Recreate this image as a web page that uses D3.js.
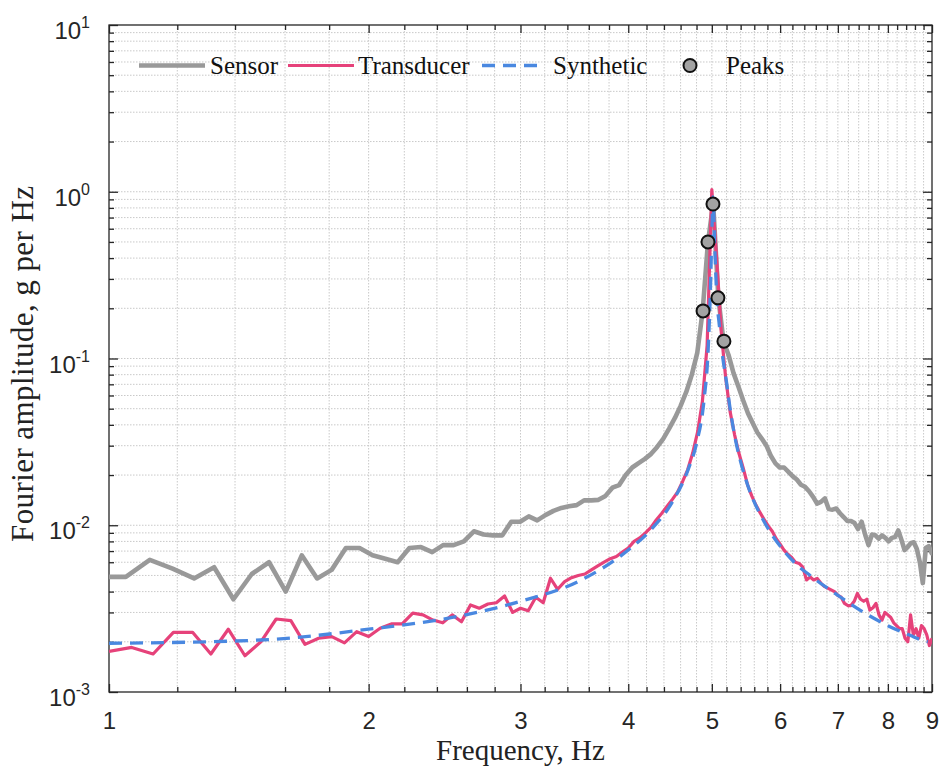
<!DOCTYPE html>
<html>
<head>
<meta charset="utf-8">
<script src="https://cdn.jsdelivr.net/npm/d3@7"></script>
<style>
  body { margin: 0; background: #fff; }
  svg { display: block; }
</style>
</head>
<body>
<div id="chart"></div>
<script>
// sensor spectrum (FFT bins)
var sensorFreq = [0.976, 1.046, 1.115, 1.185, 1.255, 1.324, 1.394, 1.464, 1.533, 1.603,
    1.673, 1.743, 1.812, 1.882, 1.952, 2.021, 2.091, 2.161, 2.230, 2.300,
    2.370, 2.440, 2.509, 2.579, 2.649, 2.718, 2.788, 2.858, 2.927, 2.997,
    3.067, 3.137, 3.206, 3.276, 3.346, 3.415, 3.485, 3.555, 3.624, 3.694,
    3.764, 3.834, 3.903, 3.973, 4.043, 4.112, 4.182, 4.252, 4.321, 4.391,
    4.461, 4.531, 4.600, 4.670, 4.740, 4.809, 4.879, 4.949, 5.018, 5.088,
    5.158, 5.228, 5.297, 5.367, 5.437, 5.506, 5.576, 5.646, 5.715, 5.785,
    5.855, 5.925, 5.994, 6.064, 6.134, 6.203, 6.273, 6.343, 6.412, 6.482,
    6.552, 6.622, 6.691, 6.761, 6.831, 6.900, 6.970, 7.040, 7.109, 7.179,
    7.249, 7.319, 7.388, 7.458, 7.528, 7.597, 7.667, 7.737, 7.806, 7.876,
    7.946, 8.016, 8.085, 8.155, 8.225, 8.294, 8.364, 8.434, 8.503, 8.573,
    8.643, 8.713, 8.782, 8.852, 8.922, 8.991, 9.061];
var sensorAmp = [0.0049, 0.0049, 0.0062, 0.0055, 0.0048, 0.0056, 0.0036, 0.0051, 0.0060, 0.0040,
    0.0066, 0.0048, 0.0054, 0.0073, 0.0073, 0.0066, 0.0063, 0.0060, 0.0073, 0.0074,
    0.0069, 0.0076, 0.0076, 0.0080, 0.0092, 0.0088, 0.0087, 0.0087, 0.0105, 0.0105,
    0.0113, 0.0107, 0.0115, 0.0122, 0.0127, 0.0130, 0.0132, 0.0141, 0.0141, 0.0142,
    0.0150, 0.0168, 0.0174, 0.0200, 0.0222, 0.0236, 0.0250, 0.0268, 0.0295, 0.033,
    0.038, 0.044, 0.052, 0.063, 0.080, 0.108, 0.193, 0.50, 0.85, 0.231,
    0.127, 0.105, 0.082, 0.068, 0.056, 0.047, 0.041, 0.036, 0.033, 0.030,
    0.026, 0.0235, 0.0222, 0.0222, 0.0209, 0.0197, 0.0188, 0.0175, 0.0170, 0.0160,
    0.0148, 0.0135, 0.0138, 0.0145, 0.0125, 0.0124, 0.0126, 0.0118, 0.0112, 0.0106,
    0.0106, 0.0103, 0.0095, 0.0105, 0.0088, 0.0076, 0.0088, 0.0087, 0.0083, 0.0087,
    0.0084, 0.0080, 0.0084, 0.0085, 0.0093, 0.0082, 0.0071, 0.0074, 0.0078, 0.0079,
    0.0072, 0.0060, 0.0045, 0.0073, 0.0075, 0.0068, 0.0070];

// transducer spectrum
var transFreq = [1.0, 1.0625, 1.125, 1.1875, 1.25, 1.3125, 1.375, 1.4375, 1.5, 1.5625,
    1.625, 1.6875, 1.75, 1.8125, 1.875, 1.9375, 2.0, 2.0625, 2.125, 2.1875,
    2.25, 2.3125, 2.375, 2.4375, 2.5, 2.5625, 2.625, 2.6875, 2.75, 2.8125,
    2.875, 2.9375, 3.0, 3.0625, 3.125, 3.1875, 3.25, 3.3125, 3.375, 3.4375,
    3.5, 3.5625, 3.625, 3.6875, 3.75, 3.8125, 3.875, 3.9375, 4.0, 4.0625,
    4.125, 4.1875, 4.25, 4.3125, 4.375, 4.4375, 4.5, 4.5625, 4.625, 4.6875,
    4.75, 4.8125, 4.875, 4.9375, 5.0, 5.0625, 5.125, 5.1875, 5.25, 5.3125,
    5.375, 5.4375, 5.5, 5.5625, 5.625, 5.6875, 5.75, 5.8125, 5.875, 5.9375,
    6.0, 6.0625, 6.125, 6.1875, 6.25, 6.3125, 6.375, 6.4375, 6.5, 6.5625,
    6.625, 6.6875, 6.75, 6.8125, 6.875, 6.9375, 7.0, 7.0625, 7.125, 7.1875,
    7.25, 7.3125, 7.375, 7.4375, 7.5, 7.5625, 7.625, 7.6875, 7.75, 7.8125,
    7.875, 7.9375, 8.0, 8.0625, 8.125, 8.1875, 8.25, 8.3125, 8.375, 8.4375,
    8.5, 8.5625, 8.625, 8.6875, 8.75, 8.8125, 8.875, 8.9375, 9.0];
var transAmp = [0.00175, 0.00185, 0.00169, 0.00228, 0.00228, 0.00169, 0.00238, 0.00165, 0.0020, 0.00274,
    0.00268, 0.00193, 0.0021, 0.00215, 0.00197, 0.0023, 0.00215, 0.00241, 0.00256, 0.00256,
    0.00297, 0.0029, 0.0027, 0.0026, 0.0029, 0.00264, 0.00333, 0.00318, 0.00337, 0.00343,
    0.00377, 0.0030, 0.00318, 0.00307, 0.0037, 0.00343, 0.00481, 0.00413, 0.00459, 0.00485,
    0.0050, 0.0051, 0.0054, 0.0057, 0.0060, 0.0063, 0.0065, 0.0069, 0.0073, 0.0080,
    0.0084, 0.0090, 0.0097, 0.0108, 0.0118, 0.0130, 0.0143, 0.0158, 0.0183, 0.0215,
    0.027, 0.036, 0.055, 0.12, 1.03, 0.41, 0.148, 0.077, 0.048, 0.035,
    0.027, 0.022, 0.0175, 0.0150, 0.0132, 0.0119, 0.0108, 0.0099, 0.0092, 0.0083,
    0.0077, 0.0071, 0.0067, 0.0064, 0.0060, 0.0059, 0.0056, 0.0047, 0.0049, 0.0047,
    0.0048, 0.0045, 0.0043, 0.0042, 0.0041, 0.0040, 0.0038, 0.0037, 0.0034, 0.0033,
    0.0033, 0.0035, 0.0039, 0.0036, 0.0035, 0.0036, 0.0031, 0.0032, 0.0034, 0.0029,
    0.0027, 0.0030, 0.0029, 0.0028, 0.0026, 0.0025, 0.0024, 0.0024, 0.0021, 0.0020,
    0.0029, 0.0022, 0.0024, 0.0021, 0.0025, 0.0024, 0.0022, 0.0019, 0.0021];

// synthetic fit
var synthFreq = [1.0, 1.5, 2.0, 2.5, 3.0, 3.5, 4.0, 4.25, 4.5, 4.7, 4.8, 4.9, 4.95, 4.98,
    5.0, 5.015, 5.04, 5.07, 5.1, 5.15, 5.2, 5.25, 5.3, 5.4, 5.5, 5.75, 6.0, 6.25,
    6.5, 7.0, 7.5, 8.0, 8.5, 8.75, 8.9];
var synthAmp = [0.00196, 0.00205, 0.00238, 0.0028, 0.0035, 0.0046, 0.0071, 0.0094, 0.0138, 0.022,
    0.031, 0.058, 0.11, 0.25, 0.55, 0.93, 0.45, 0.22, 0.16, 0.10, 0.072, 0.050, 0.037,
    0.024, 0.0175, 0.0105, 0.0075, 0.0059, 0.0050, 0.0038, 0.0030, 0.0025, 0.00218,
    0.00205, 0.0020];

// picked peaks
var peakFreq = [4.884, 4.949, 5.015, 5.082, 5.164];
var peakAmp = [0.193, 0.50, 0.844, 0.231, 0.127];

var xTickValues = [1, 2, 3, 4, 5, 6, 7, 8, 9];
var yTickExponents = [-3, -2, -1, 0, 1];

var width = 939;
var height = 769;
var plotLeft = 109, plotRight = 932, plotTop = 25, plotBottom = 692;

var svg = d3.select("#chart")
    .append("svg")
    .attr("width", width)
    .attr("height", height);

var xScale = d3.scaleLog().domain([1, 9]).range([plotLeft, plotRight]);
var yScale = d3.scaleLog().domain([1e-3, 10]).range([plotBottom, plotTop]);

// minor positions
var xMinor = d3.range(1, 9.001, 0.2).filter(function (d) {
    return Math.abs(d - Math.round(d)) > 1e-6;
});
var yMajor = yTickExponents.map(function (e) { return Math.pow(10, e); });
var yMinor = [];
yTickExponents.slice(0, -1).forEach(function (e) {
    for (var k = 2; k <= 9; k++) yMinor.push(k * Math.pow(10, e));
});

// grid
var grid = svg.append("g").attr("class", "grid");
grid.selectAll("line.vx").data(xMinor.concat(xTickValues.slice(1, -1))).enter()
    .append("line")
    .attr("x1", function (d) { return xScale(d); })
    .attr("x2", function (d) { return xScale(d); })
    .attr("y1", plotTop).attr("y2", plotBottom)
    .attr("stroke", "#c9c9c9").attr("stroke-width", 1)
    .attr("stroke-dasharray", "1.5,1.5");
grid.selectAll("line.hy").data(yMinor.concat(yMajor.slice(1, -1))).enter()
    .append("line")
    .attr("x1", plotLeft).attr("x2", plotRight)
    .attr("y1", function (d) { return yScale(d); })
    .attr("y2", function (d) { return yScale(d); })
    .attr("stroke", "#c9c9c9").attr("stroke-width", 1)
    .attr("stroke-dasharray", "1.5,1.5");

// axes with inward ticks on all four sides
function styleAxis(g) {
    g.select(".domain").remove();
    g.selectAll(".tick line").attr("stroke", "#262626").attr("stroke-width", 1.3);
}
svg.append("g").attr("transform", "translate(0," + plotBottom + ")")
    .call(d3.axisBottom(xScale).tickValues(xTickValues).tickSize(-8).tickPadding(20)
        .tickFormat(d3.format("d")))
    .call(styleAxis)
    .attr("font-family", "Liberation Sans, Arial, sans-serif")
    .attr("font-size", 24)
    .selectAll("text").attr("fill", "#262626");
svg.append("g").attr("transform", "translate(0," + plotBottom + ")")
    .call(d3.axisBottom(xScale).tickValues(xMinor).tickSize(-5).tickFormat(""))
    .call(styleAxis);
svg.append("g").attr("transform", "translate(0," + plotTop + ")")
    .call(d3.axisTop(xScale).tickValues(xTickValues).tickSize(-8).tickFormat(""))
    .call(styleAxis);
svg.append("g").attr("transform", "translate(0," + plotTop + ")")
    .call(d3.axisTop(xScale).tickValues(xMinor).tickSize(-5).tickFormat(""))
    .call(styleAxis);
svg.append("g").attr("transform", "translate(" + plotLeft + ",0)")
    .call(d3.axisLeft(yScale).tickValues(yMajor).tickSize(-9).tickFormat(""))
    .call(styleAxis);
svg.append("g").attr("transform", "translate(" + plotLeft + ",0)")
    .call(d3.axisLeft(yScale).tickValues(yMinor).tickSize(-5).tickFormat(""))
    .call(styleAxis);
svg.append("g").attr("transform", "translate(" + plotRight + ",0)")
    .call(d3.axisRight(yScale).tickValues(yMajor).tickSize(-9).tickFormat(""))
    .call(styleAxis);
svg.append("g").attr("transform", "translate(" + plotRight + ",0)")
    .call(d3.axisRight(yScale).tickValues(yMinor).tickSize(-5).tickFormat(""))
    .call(styleAxis);

// y tick labels 10^n
var yLab = svg.append("g").selectAll("text").data(yTickExponents).enter()
    .append("text")
    .attr("x", 90)
    .attr("y", function (d) { return yScale(Math.pow(10, d)) + 14; })
    .attr("text-anchor", "end")
    .attr("font-family", "Liberation Sans, Arial, sans-serif")
    .attr("font-size", 24)
    .attr("fill", "#262626");
yLab.append("tspan").text("10");
yLab.append("tspan").attr("dy", -11).attr("font-size", 16)
    .text(function (d) { return d; });

// box
svg.append("rect")
    .attr("x", plotLeft).attr("y", plotTop)
    .attr("width", plotRight - plotLeft).attr("height", plotBottom - plotTop)
    .attr("fill", "none").attr("stroke", "#262626").attr("stroke-width", 1.3);

// clip
svg.append("clipPath").attr("id", "plotClip")
    .append("rect").attr("x", plotLeft).attr("y", plotTop)
    .attr("width", plotRight - plotLeft).attr("height", plotBottom - plotTop);

var plot = svg.append("g").attr("clip-path", "url(#plotClip)");

var line = d3.line()
    .x(function (d) { return xScale(d[0]); })
    .y(function (d) { return yScale(d[1]); });

var sensorData = d3.zip(sensorFreq, sensorAmp);
var transData = d3.zip(transFreq, transAmp);
var synthData = d3.zip(synthFreq, synthAmp);

plot.append("path").datum(sensorData)
    .attr("d", line)
    .attr("fill", "none").attr("stroke", "#999999").attr("stroke-width", 4.6)
    .attr("stroke-linejoin", "round");
plot.append("path").datum(transData)
    .attr("d", line)
    .attr("fill", "none").attr("stroke", "#e6427a").attr("stroke-width", 3.2)
    .attr("stroke-linejoin", "round");
plot.append("path").datum(synthData)
    .attr("d", line.curve(d3.curveMonotoneX))
    .attr("fill", "none").attr("stroke", "#4a88e0").attr("stroke-width", 3.3)
    .attr("stroke-dasharray", "13,8");

plot.selectAll("circle.peak").data(d3.zip(peakFreq, peakAmp)).enter()
    .append("circle")
    .attr("cx", function (d) { return xScale(d[0]); })
    .attr("cy", function (d) { return yScale(d[1]); })
    .attr("r", 6.5)
    .attr("fill", "#a3a3a3").attr("stroke", "#111").attr("stroke-width", 2);

// legend
var legend = svg.append("g")
    .attr("font-family", "Liberation Serif, Times New Roman, serif")
    .attr("font-size", 25).attr("fill", "#111");
var ly = 65.5;
legend.append("line").attr("x1", 139).attr("x2", 205).attr("y1", ly).attr("y2", ly)
    .attr("stroke", "#999999").attr("stroke-width", 4.6);
legend.append("text").attr("x", 210).attr("y", ly + 8).text("Sensor");
legend.append("line").attr("x1", 288).attr("x2", 354).attr("y1", ly).attr("y2", ly)
    .attr("stroke", "#e6427a").attr("stroke-width", 3.2);
legend.append("text").attr("x", 358).attr("y", ly + 8).text("Transducer");
legend.append("line").attr("x1", 482).attr("x2", 542).attr("y1", ly).attr("y2", ly)
    .attr("stroke", "#4a88e0").attr("stroke-width", 3.3).attr("stroke-dasharray", "13,8");
legend.append("text").attr("x", 553).attr("y", ly + 8).text("Synthetic");
legend.append("circle").attr("cx", 690).attr("cy", ly).attr("r", 6.5)
    .attr("fill", "#a3a3a3").attr("stroke", "#111").attr("stroke-width", 2);
legend.append("text").attr("x", 726).attr("y", ly + 8).text("Peaks");

// axis titles
svg.append("text")
    .attr("x", (plotLeft + plotRight) / 2).attr("y", 760)
    .attr("text-anchor", "middle")
    .attr("font-family", "Liberation Serif, Times New Roman, serif")
    .attr("font-size", 29).attr("fill", "#222")
    .text("Frequency, Hz");
svg.append("text")
    .attr("transform", "translate(33,364) rotate(-90)")
    .attr("text-anchor", "middle")
    .attr("font-family", "Liberation Serif, Times New Roman, serif")
    .attr("font-size", 31).attr("fill", "#222")
    .attr("textLength", 356).attr("lengthAdjust", "spacing")
    .text("Fourier amplitude, g per Hz");
</script>
</body>
</html>
